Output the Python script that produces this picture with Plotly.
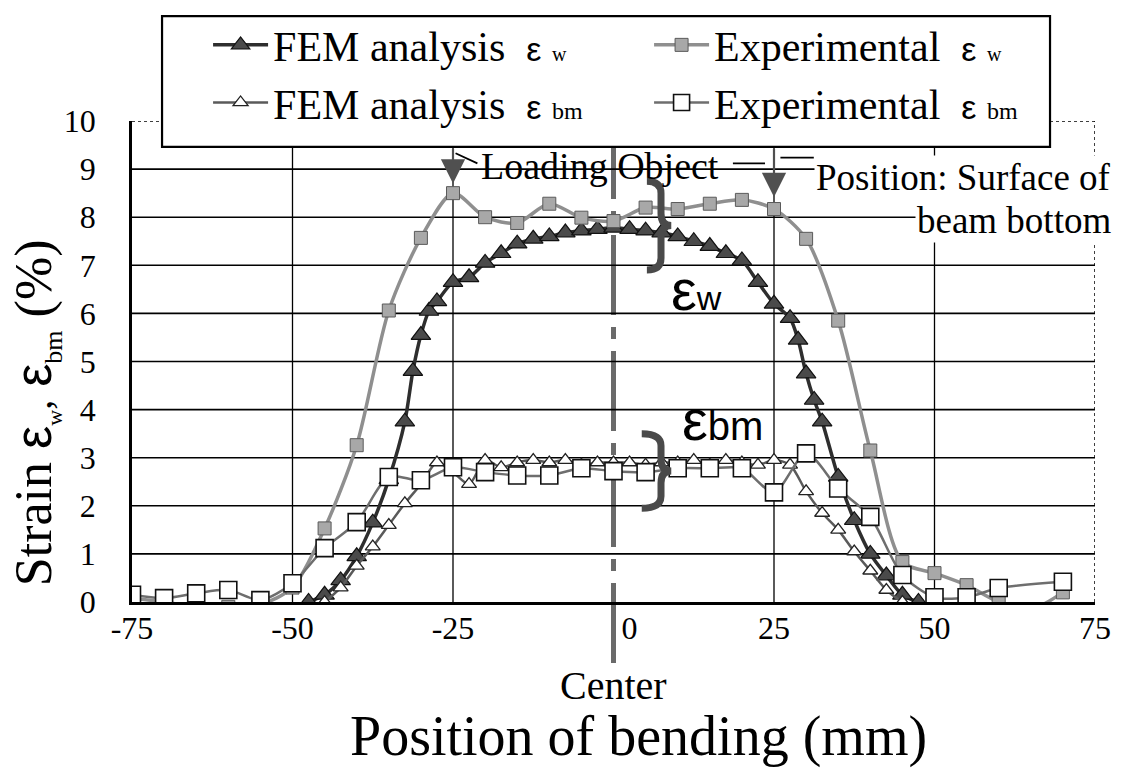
import plotly.graph_objects as go

# ---- data -------------------------------------------------------------
# FEM analysis, strain on the weld side (eps_w)
fem_w_x = [-47.5, -45, -42.5, -40, -37.5, -35, -32.5, -31.25, -30, -28.75,
           -27.5, -25, -22.5, -20, -17.5, -15, -12.5, -10, -7.5, -5,
           -2.5, 0, 2.5, 5, 7.5, 10, 12.5, 15, 17.5, 20,
           22.5, 25, 27.5, 28.75, 30, 31.25, 32.5, 35, 37.5, 40,
           42.5, 45, 47.5]
fem_w_y = [0.0, 0.15, 0.45, 0.95, 1.65, 2.55, 3.75, 4.8, 5.55, 6.05,
           6.25, 6.65, 6.75, 7.05, 7.25, 7.45, 7.55, 7.6, 7.68, 7.72,
           7.75, 7.78, 7.75, 7.72, 7.68, 7.6, 7.5, 7.4, 7.25, 7.1,
           6.65, 6.2, 5.9, 5.45, 4.75, 4.2, 3.75, 2.6, 1.7, 1.0,
           0.55, 0.15, 0.0]

# FEM analysis, strain on the beam bottom (eps_bm)
fem_bm_x = [-45, -42.5, -40, -37.5, -35, -32.5, -30, -27.5, -25, -22.5,
            -20, -17.5, -15, -12.5, -10, -7.5, -5, -2.5, 0, 2.5,
            5, 7.5, 10, 12.5, 15, 17.5, 20, 22.5, 25, 27.5,
            30, 32.5, 35, 37.5, 40, 42.5, 45]
fem_bm_y = [0.0, 0.3, 0.75, 1.15, 1.6, 2.05, 2.45, 2.9, 2.7, 2.45,
            2.95, 2.8, 2.9, 2.95, 2.9, 2.95, 2.85, 2.9, 2.9, 2.9,
            2.85, 2.9, 2.9, 2.95, 2.85, 2.95, 2.9, 2.85, 2.95, 2.85,
            2.3, 1.85, 1.5, 1.05, 0.65, 0.25, 0.0]

# Experimental measurements (every 5 mm)
exp_x = [-75, -70, -65, -60, -55, -50, -45, -40, -35, -30,
         -25, -20, -15, -10, -5, 0, 5, 10, 15, 20,
         25, 30, 35, 40, 45, 50, 55, 60, 65, 70]
exp_w_y = [0.08, 0.0, -0.1, -0.1, -0.05, 0.3, 1.53, 3.26, 6.06, 7.57,
           8.5, 8.0, 7.88, 8.28, 7.99, 7.92, 8.2, 8.17, 8.28, 8.36,
           8.17, 7.55, 5.85, 3.15, 0.83, 0.6, 0.35, 0.0, -0.15, 0.2]
exp_bm_y = [0.15, 0.08, 0.18, 0.25, 0.04, 0.39, 1.12, 1.66, 2.6, 2.53,
            2.8, 2.7, 2.63, 2.63, 2.78, 2.72, 2.7, 2.78, 2.78, 2.78,
            2.28, 3.09, 2.36, 1.77, 0.56, 0.1, 0.1, 0.29, None, 0.42]

x_ticks = [-75, -50, -25, 0, 25, 50, 75]
x_tick_text = ["-75", "-50", "-25", "\u2002\u20020", "25", "50", "75"]
y_ticks = list(range(0, 11))
X_MIN, X_MAX = -75, 75
Y_MIN, Y_MAX = 0, 10

SERIF = "Liberation Serif, Times New Roman, serif"
SANS = "Liberation Sans"


def eps_label(text, sub, eps_size, sub_size):
    return (f"{text}  <span style='font-family:{SANS};font-size:{eps_size}px'>\u03b5</span>"
            f" <span style='font-size:{sub_size}px'>{sub}</span>")


fig = go.Figure()

fig.add_trace(go.Scatter(
    x=fem_w_x, y=fem_w_y, mode="lines+markers",
    name=eps_label("FEM analysis", "w", 34, 20),
    line=dict(color="#2e2e2e", width=3.5, shape="spline", smoothing=0.8),
    marker=dict(symbol="triangle-up", size=17, color="#4a4a4a",
                line=dict(color="#111111", width=1.2)),
))
fig.add_trace(go.Scatter(
    x=exp_x, y=exp_w_y, mode="lines+markers",
    name=eps_label("Experimental", "w", 34, 20),
    line=dict(color="#8f8f8f", width=3.5, shape="spline", smoothing=0.8),
    marker=dict(symbol="square", size=13, color="#a8a8a8",
                line=dict(color="#5a5a5a", width=1)),
))
fig.add_trace(go.Scatter(
    x=fem_bm_x, y=fem_bm_y, mode="lines+markers",
    name=eps_label("FEM analysis", "bm", 34, 24),
    line=dict(color="#5a5a5a", width=2.5, shape="spline", smoothing=0.8),
    marker=dict(symbol="triangle-up", size=13, color="white",
                line=dict(color="#222222", width=1.3)),
))
fig.add_trace(go.Scatter(
    x=exp_x, y=exp_bm_y, mode="lines+markers", connectgaps=True,
    name=eps_label("Experimental", "bm", 34, 24),
    line=dict(color="#6e6e6e", width=2.5, shape="spline", smoothing=0.8),
    marker=dict(symbol="square", size=17, color="white",
                line=dict(color="#111111", width=1.6)),
))

# ---- grid and frame ------------------------------------------------------
shapes = []
for yv in y_ticks[1:-1]:
    shapes.append(dict(type="line", xref="x", yref="y", x0=X_MIN, x1=X_MAX,
                       y0=yv, y1=yv, line=dict(color="black", width=1.6),
                       layer="below"))
for xv in x_ticks[1:-1]:
    if xv == 0:
        continue
    shapes.append(dict(type="line", xref="x", yref="y", x0=xv, x1=xv,
                       y0=Y_MIN, y1=Y_MAX, line=dict(color="black", width=1.3),
                       layer="below"))
# dotted top and right border of the plot area
shapes.append(dict(type="line", xref="x", yref="y", x0=X_MIN, x1=X_MAX,
                   y0=Y_MAX, y1=Y_MAX, line=dict(color="black", width=1.5, dash="dot"),
                   layer="below"))
shapes.append(dict(type="line", xref="x", yref="y", x0=X_MAX, x1=X_MAX,
                   y0=Y_MIN, y1=Y_MAX, line=dict(color="black", width=1.5, dash="dot"),
                   layer="below"))

# centre line of the bending specimen (runs past the axis down to the label)
x_centre = (0 - X_MIN) / (X_MAX - X_MIN)
shapes.append(dict(type="line", xref="paper", yref="paper",
                   x0=x_centre, x1=x_centre, y0=-0.127, y1=0.944,
                   line=dict(color="#6a6a6a", width=5, dash="80px,12px,12px,12px"),
                   layer="below"))

# leader lines of the loading-object / position notes
for (x0, y0, x1, y1) in [(-24.6, 9.33, -21.2, 9.12), (18.6, 9.12, 23.6, 9.12),
                         (26.0, 9.24, 31.2, 9.24)]:
    shapes.append(dict(type="line", xref="x", yref="y", x0=x0, y0=y0, x1=x1, y1=y1,
                       line=dict(color="black", width=1.8)))


def brace(xl, xm, xr, y0, y1):
    ym = (y0 + y1) / 2
    d = 0.25
    return (f"M {xl},{y1} Q {xm},{y1} {xm},{y1 - d} L {xm},{ym + d} "
            f"Q {xm},{ym} {xr},{ym} Q {xm},{ym} {xm},{ym - d} "
            f"L {xm},{y0 + d} Q {xm},{y0} {xl},{y0}")


shapes.append(dict(type="path", xref="x", yref="y", path=brace(5.2, 7.4, 9.0, 6.9, 8.75),
                   line=dict(color="#4a4a4a", width=7)))
shapes.append(dict(type="path", xref="x", yref="y", path=brace(4.4, 7.4, 9.0, 1.95, 3.5),
                   line=dict(color="#4a4a4a", width=7)))

# legend frame (the legend itself is drawn on top of it without its own box)
shapes.append(dict(type="rect", xref="paper", yref="paper",
                   x0=0.0312, x1=0.9533, y0=0.946, y1=1.218,
                   fillcolor="white", line=dict(color="black", width=2.2),
                   layer="above"))

# ---- annotations -----------------------------------------------------------
ann = []
ytitle = ("Strain <span style='font-family:" + SANS + ";font-size:52px'>\u03b5</span>"
          "<sub><span style='font-size:22px'>w</span></sub>"
          "<span style='font-size:40px'>,</span> "
          "<span style='font-family:" + SANS + ";font-size:52px'>\u03b5</span>"
          "<sub><span style='font-size:26px'>bm</span></sub> (%)")
ann.append(dict(text=ytitle, xref="paper", yref="paper", x=-0.099, y=0.394,
                textangle=-90, showarrow=False, xanchor="center", yanchor="middle",
                font=dict(family=SERIF, size=52, color="black")))
ann.append(dict(text="Position of bending (mm)", xref="paper", yref="paper",
                x=0.526, y=(Y_MIN - 0.35), showarrow=False, xanchor="center",
                yanchor="bottom",
                font=dict(family=SERIF, size=56, color="black")))
ann.append(dict(text="Center", xref="paper", yref="paper", x=0.5, y=-0.174,
                showarrow=False, xanchor="center", yanchor="middle",
                font=dict(family=SERIF, size=40, color="black")))
ann.append(dict(text="Loading Object", xref="x", yref="y", x=-2.1, y=9.07,
                showarrow=False, xanchor="center", yanchor="middle",
                font=dict(family=SERIF, size=38, color="black")))
ann.append(dict(text="Position: Surface of", xref="paper", yref="paper", x=1.019, y=0.882,
                showarrow=False, xanchor="right", yanchor="middle", bgcolor="white",
                font=dict(family=SERIF, size=37, color="black")))
ann.append(dict(text="beam bottom", xref="paper", yref="paper", x=1.019, y=0.793,
                showarrow=False, xanchor="right", yanchor="middle", bgcolor="white",
                font=dict(family=SERIF, size=37, color="black")))
ann.append(dict(text="\u03b5<span style='font-size:34px'>w</span>", xref="x", yref="y",
                x=13.0, y=6.5, showarrow=False, xanchor="center", yanchor="middle",
                font=dict(family=SANS, size=58, color="black")))
ann.append(dict(text="\u03b5<span style='font-size:40px'>bm</span>", xref="x", yref="y",
                x=16.9, y=3.8, showarrow=False, xanchor="center", yanchor="middle",
                font=dict(family=SANS, size=58, color="black")))
# loading points
for xp, tip in [(-25, 8.7), (25, 8.42)]:
    ann.append(dict(x=xp, y=tip, ax=xp, ay=9.45, xref="x", yref="y", axref="x", ayref="y",
                    text="", showarrow=True, arrowhead=2, arrowsize=2.2, arrowwidth=2.2,
                    arrowcolor="#505050", standoff=0))

fig.update_layout(
    width=1125, height=771, autosize=False,
    margin=dict(l=132, r=30, t=120, b=169),
    paper_bgcolor="white", plot_bgcolor="rgba(0,0,0,0)",
    font=dict(family=SERIF, color="black"),
    shapes=shapes, annotations=ann,
    legend=dict(orientation="h", x=0.079, y=1.226, xanchor="left", yanchor="top",
                bgcolor="rgba(0,0,0,0)", borderwidth=0,
                font=dict(family=SERIF, size=42, color="black"),
                entrywidth=371, itemwidth=55, traceorder="normal"),
    xaxis=dict(range=[X_MIN, X_MAX], tickvals=x_ticks, ticktext=x_tick_text,
               showgrid=False, zeroline=False, showline=True, linecolor="black",
               linewidth=2.5, ticks="", ticklabelstandoff=-4,
               tickfont=dict(family=SERIF, size=32, color="black")),
    yaxis=dict(range=[Y_MIN, Y_MAX], tickvals=y_ticks,
               showgrid=False, zeroline=False, showline=True, linecolor="black",
               linewidth=2.5, ticks="", ticklabelstandoff=27,
               tickfont=dict(family=SERIF, size=32, color="black")),
)

fig.write_html("out.html")
